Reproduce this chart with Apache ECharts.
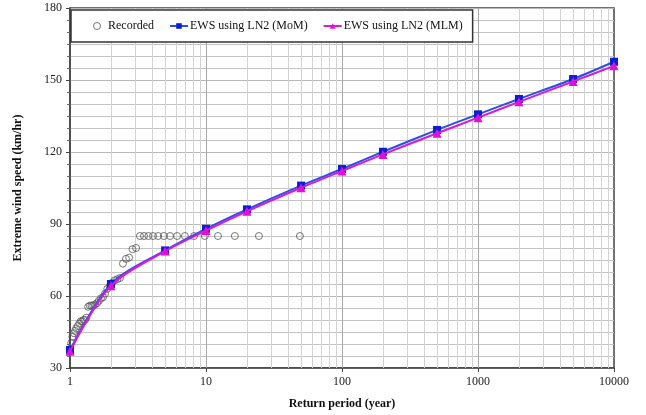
<!DOCTYPE html>
<html>
<head>
<meta charset="utf-8">
<script src="https://cdn.jsdelivr.net/npm/echarts@6/dist/echarts.min.js"></script>
<style>html,body{margin:0;padding:0;background:#fff}#c{width:646px;height:415px}</style>
</head>
<body>
<div id="c"></div>
<script>
// Recorded data (return period, speed)
var recordedT = [49, 24.5, 16.3, 12.25, 9.8, 8.17, 7, 6.13, 5.44, 4.9, 4.45, 4.08, 3.77, 3.5, 3.27,
  3.06, 2.88, 2.72, 2.58, 2.45, 2.33, 2.23, 2.13, 2.04, 1.96, 1.88, 1.81, 1.75, 1.69, 1.63,
  1.58, 1.53, 1.48, 1.44, 1.4, 1.36, 1.32, 1.29, 1.26, 1.23, 1.2, 1.17, 1.14, 1.11, 1.09, 1.07, 1.04, 1.02];
var recordedV = [85, 85, 85, 85, 85, 85, 85, 85, 85, 85, 85, 85, 85, 85, 85,
  80, 79.5, 76, 75.5, 73.5, 67.5, 67, 66.5, 65.5, 64, 63, 61, 59.5, 59, 58,
  57, 56.5, 56, 56, 56, 55.5, 51, 50, 50, 49.5, 49.5, 48.5, 47.5, 46.5, 45.5, 44.5, 43, 40.5];
// Fitted return periods
var fitT = [1, 2, 5, 10, 20, 50, 100, 200, 500, 1000, 2000, 5000, 10000];
var momV = [37.5, 65, 79, 88, 96.1, 106, 112.9, 120.1, 129.2, 135.7, 142.1, 150.4, 157.6];
var mlmV = [37, 64.3, 78.7, 87.3, 95.3, 105.1, 112.1, 119, 127.8, 134.3, 140.9, 149.4, 155.9];
// Ticks
var yTicks = [30, 60, 90, 120, 150, 180];
var xTicks = [1, 10, 100, 1000, 10000];

function pairs(a, b) { return a.map(function (v, i) { return [v, b[i]]; }); }

// vertical minor gridlines (2..9 within each decade)
var minorX = [];
for (var d = 1; d < 10000; d *= 10) for (var k = 2; k <= 9; k++) minorX.push({ xAxis: k * d });
var majorX = [{ xAxis: 10 }, { xAxis: 100 }, { xAxis: 1000 }];

var font = '"Liberation Serif", "Times New Roman", serif';
var chart = echarts.init(document.getElementById('c'));
chart.setOption({
  animation: false,
  textStyle: { fontFamily: font },
  grid: { left: 70, right: 32, top: 8, bottom: 47, show: true, borderColor: '#444', borderWidth: 1.5, backgroundColor: 'transparent' },
  legend: {
    left: 71, top: 10, zlevel: 2, z: 20,
    padding: [10, 10, 10, 22],
    backgroundColor: '#fff', borderColor: '#333', borderWidth: 1.5, borderRadius: 0,
    itemWidth: 18, itemHeight: 7, itemGap: 15,
    textStyle: { fontFamily: font, fontSize: 12, color: '#111', padding: [0, 0, 0, -3] },
    data: [
      { name: 'Recorded', icon: 'circle', itemStyle: { color: '#fff', borderColor: '#555', borderWidth: 1 } },
      'EWS using LN2 (MoM)', 'EWS using LN2 (MLM)']
  },
  xAxis: {
    type: 'log', logBase: 10, min: 1, max: 10000,
    name: 'Return period (year)', nameLocation: 'middle', nameGap: 30,
    nameTextStyle: { fontFamily: font, fontWeight: 'bold', fontSize: 12, color: '#111' },
    axisLine: { show: true, lineStyle: { color: '#444', width: 1.5 } },
    axisTick: { show: true, length: 4, lineStyle: { color: '#444' } },
    axisLabel: { color: '#222', fontSize: 12, fontFamily: font, margin: 8,
      formatter: function (v) { return xTicks.indexOf(v) >= 0 ? String(v) : ''; } },
    splitLine: { show: false }
  },
  yAxis: {
    type: 'value', min: 30, max: 180, interval: 30,
    name: 'Extreme wind speed (km/hr)', nameLocation: 'middle', nameGap: 46,
    nameTextStyle: { fontFamily: font, fontWeight: 'bold', fontSize: 12, color: '#111' },
    axisLine: { show: true, lineStyle: { color: '#444', width: 1.5 } },
    axisTick: { show: true, length: 4, lineStyle: { color: '#444' } },
    minorTick: { show: true, splitNumber: 6, length: 3, lineStyle: { color: '#666' } },
    axisLabel: { color: '#222', fontSize: 12, fontFamily: font, margin: 8,
      formatter: function (v) { return yTicks.indexOf(v) >= 0 ? String(v) : ''; } },
    splitLine: { show: true, lineStyle: { color: '#b8b8b8', width: 1 } },
    minorSplitLine: { show: true, lineStyle: { color: '#c4c4c4', width: 1 } }
  },
  series: [
    {
      name: 'grid', type: 'line', data: [], silent: true, z: 1,
      markLine: { silent: true, symbol: 'none', label: { show: false }, animation: false, z: 1,
        lineStyle: { color: '#d2d2d2', type: 'solid', width: 1 },
        data: minorX }
    },
    {
      name: 'grid2', type: 'line', data: [], silent: true, z: 1,
      markLine: { silent: true, symbol: 'none', label: { show: false }, animation: false, z: 1,
        lineStyle: { color: '#a8a8a8', type: 'solid', width: 1 },
        data: majorX }
    },
    {
      name: 'Recorded', type: 'scatter', data: pairs(recordedT, recordedV), z: 3,
      symbol: 'circle', symbolSize: 7,
      itemStyle: { color: 'rgba(255,255,255,0)', borderColor: '#555', borderWidth: 1 }
    },
    {
      name: 'EWS using LN2 (MoM)', type: 'line', data: pairs(fitT, momV), z: 4,
      smooth: 0.3, symbol: 'rect', symbolSize: 8, showAllSymbol: true,
      lineStyle: { color: '#2a4fe8', width: 2 },
      itemStyle: { color: '#0a1fd0' }
    },
    {
      name: 'EWS using LN2 (MLM)', type: 'line', data: pairs(fitT, mlmV), z: 5,
      smooth: 0.3, symbol: 'triangle', symbolSize: 9, showAllSymbol: true,
      lineStyle: { color: '#d81ad8', width: 2 },
      itemStyle: { color: '#e010d8' }
    }
  ]
});
</script>
</body>
</html>
